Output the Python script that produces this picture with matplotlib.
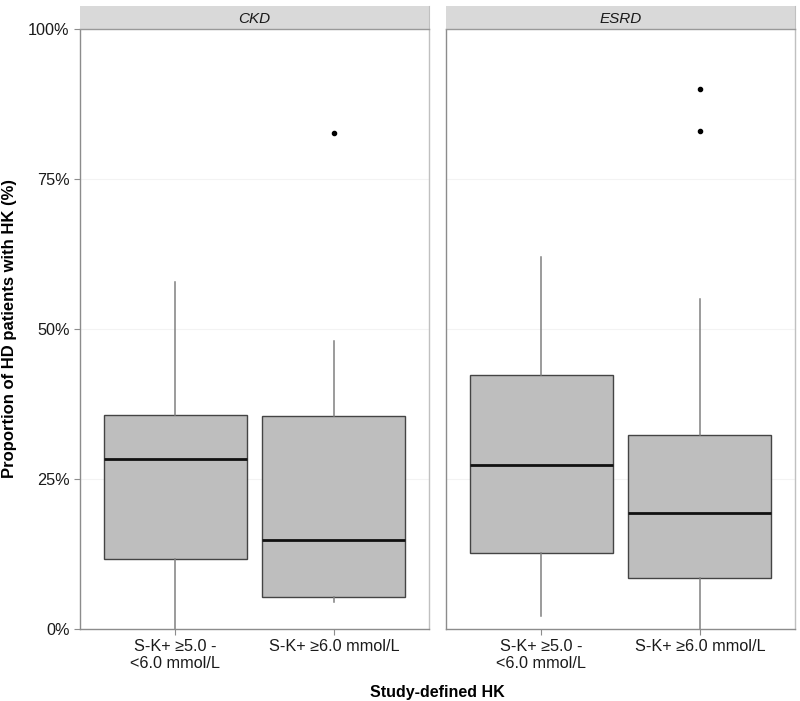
import matplotlib
matplotlib.use("Agg")
import matplotlib.pyplot as plt
from matplotlib.ticker import FuncFormatter

plt.rcParams['font.family'] = ['Liberation Sans', 'DejaVu Sans']

facets = ["CKD", "ESRD"]
categories = ["S-K+ ≥5.0 -\n<6.0 mmol/L", "S-K+ ≥6.0 mmol/L"]
# proportion (%) box statistics per facet: [category1, category2]
whislo = {"CKD": [0.0, 4.5], "ESRD": [2.2, 0.0]}
q1 = {"CKD": [11.7, 5.3], "ESRD": [12.6, 8.5]}
med = {"CKD": [28.3, 14.8], "ESRD": [27.3, 19.3]}
q3 = {"CKD": [35.7, 35.5], "ESRD": [42.3, 32.3]}
whishi = {"CKD": [57.8, 48.0], "ESRD": [62.0, 55.0]}
fliers = {"CKD": [[], [82.7]], "ESRD": [[], [90.0, 83.0]]}
yticks = [0, 25, 50, 75, 100]

W, H = 800, 701
fig = plt.figure(figsize=(W / 100, H / 100), dpi=100)

panels = [(80, 429), (446, 795)]
ptop, pbot = 29, 629
stop = 6

for i, (f, (x0, x1)) in enumerate(zip(facets, panels)):
    ax = fig.add_axes([x0 / W, (H - pbot) / H, (x1 - x0) / W, (pbot - ptop) / H])
    stats = []
    for j in range(len(categories)):
        stats.append(dict(whislo=whislo[f][j], q1=q1[f][j], med=med[f][j],
                          q3=q3[f][j], whishi=whishi[f][j], fliers=fliers[f][j]))
    ax.bxp(stats, positions=[1, 2], widths=0.9, patch_artist=True,
           showcaps=False,
           boxprops=dict(facecolor='#bebebe', edgecolor='#444444', linewidth=1.0),
           medianprops=dict(color='#111111', linewidth=2.0),
           whiskerprops=dict(color='#808080', linewidth=1.1),
           flierprops=dict(marker='o', markerfacecolor='black', markeredgecolor='black',
                           markersize=3, linestyle='none'))
    ax.set_xlim(0.4, 2.6)
    ax.set_ylim(0, 100)
    ax.set_yticks(yticks)
    ax.yaxis.set_major_formatter(FuncFormatter(lambda v, p: f"{int(v)}%"))
    ax.set_xticks([1, 2])
    ax.set_xticklabels(categories, fontsize=11.7, color='#1a1a1a', linespacing=1.1)
    for y in yticks:
        ax.axhline(y, color='#f3f3f3', linewidth=0.8, zorder=0)
    for side in ['left', 'bottom']:
        ax.spines[side].set_color('#8c8c8c')
        ax.spines[side].set_linewidth(1.0)
    ax.spines['right'].set_color('#c0c0c0')
    ax.spines['right'].set_linewidth(1.0)
    ax.spines['top'].set_visible(False)
    ax.tick_params(axis='both', color='#8c8c8c', length=4, width=0.8,
                   labelsize=11.7, labelcolor='#1a1a1a')
    if i == 0:
        ax.set_ylabel("Proportion of HD patients with HK (%)", fontsize=12,
                      fontweight='bold', labelpad=8)
    else:
        ax.tick_params(axis='y', left=False, labelleft=False)

    # strip
    sax = fig.add_axes([x0 / W, (H - ptop) / H, (x1 - x0) / W, (ptop - stop) / H])
    sax.set_facecolor('#d9d9d9')
    sax.set_xticks([])
    sax.set_yticks([])
    for side in ['left', 'top']:
        sax.spines[side].set_visible(False)
    sax.spines['right'].set_color('#c0c0c0')
    sax.spines['bottom'].set_color('#999999')
    sax.spines['bottom'].set_linewidth(1.0)
    sax.text(0.5, 0.45, f, transform=sax.transAxes, ha='center', va='center',
             fontsize=11, style='italic', color='#1a1a1a')

fig.text(437 / W, 1 - 693 / H, "Study-defined HK", ha='center', va='center',
         fontsize=11.5, fontweight='bold')

fig.savefig("out.png", dpi=100)
